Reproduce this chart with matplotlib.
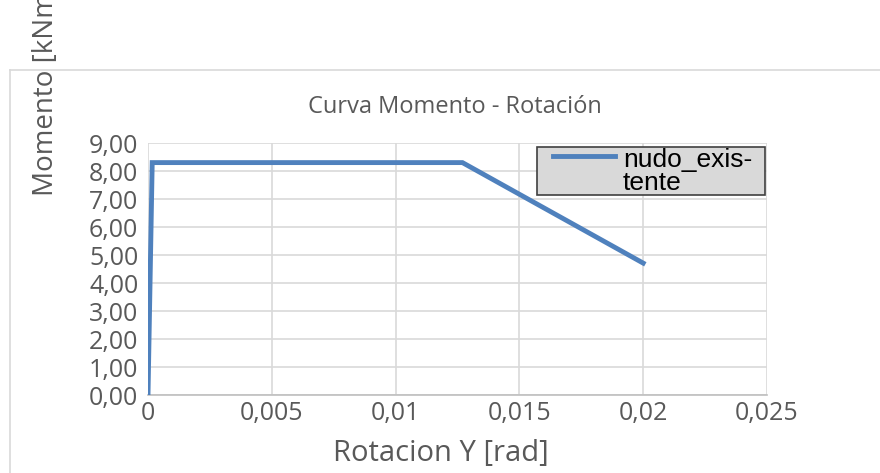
import matplotlib.pyplot as plt
from matplotlib.lines import Line2D
from matplotlib.patches import Rectangle

rotacion = [0.0, 0.00017, 0.0127, 0.020]
momento = [0.0, 8.30, 8.30, 4.71]
serie = "nudo_exis-\ntente"
xticks = [0, 0.005, 0.01, 0.015, 0.02, 0.025]
xlabels = ["0", "0,005", "0,01", "0,015", "0,02", "0,025"]
yticks = [0, 1, 2, 3, 4, 5, 6, 7, 8, 9]
ylabels = ["%d,00" % v for v in yticks]

grey = "#595959"
blue = "#4f81bd"
plt.rcParams['font.family'] = ['Open Sans', 'DejaVu Sans']

fig = plt.figure(figsize=(8.8, 4.73), dpi=100)
W, H = 880, 473
x0, x1, y0, y1 = 148, 767, 395, 143
ax = fig.add_axes([x0 / W, 1 - y0 / H, (x1 - x0) / W, (y0 - y1) / H])

def axpos(px, py):
    # pixel position -> axes fraction
    return (px - x0) / (x1 - x0), (y0 - py) / (y0 - y1)

ax.plot(rotacion, momento, color=blue, lw=3.5, solid_joinstyle="miter", zorder=3)
ax.set_xlim(0, 0.025)
ax.set_ylim(0, 9)
ax.set_xticks(xticks)
ax.set_xticklabels(xlabels)
ax.set_yticks(yticks)
ax.set_yticklabels(ylabels)
ax.tick_params(length=0, labelsize=18, labelcolor=grey)
ax.tick_params(axis="y", pad=7)
ax.tick_params(axis="x", pad=4)
ax.grid(color="#d9d9d9", lw=1.2)
for s in ["top", "right", "left"]:
    ax.spines[s].set_visible(False)
ax.spines["bottom"].set_color("#bfbfbf")
ax.spines["bottom"].set_linewidth(1.2)

ax.set_xlabel("Rotacion Y [rad]", fontsize=21, color=grey)
ax.xaxis.set_label_coords(*axpos(441, 453))
ax.xaxis.label.set_va("center")
fig.text(455 / W, 1 - 107 / H, "Curva Momento - Rotación", fontsize=17,
         color=grey, ha="center", va="center")
fig.text(46 / W, 1 - 196 / H, "Momento [kNm]", fontsize=20, color=grey,
         rotation=90, ha="center", va="bottom")

# chart area border
fig.add_artist(Line2D([10 / W, 1], [1 - 70 / H] * 2, color="#d9d9d9", lw=1.2))
fig.add_artist(Line2D([10 / W] * 2, [0, 1 - 70 / H], color="#d9d9d9", lw=1.2))

# legend box
bx0, by0 = axpos(537, 195)
bx1, by1 = axpos(765, 147)
ax.add_patch(Rectangle((bx0, by0), bx1 - bx0, by1 - by0, transform=ax.transAxes,
                       facecolor="#d9d9d9", edgecolor="#404040", lw=1.2, zorder=5))
hx0, hy = axpos(553, 156)
hx1, _ = axpos(615, 156)
ax.add_artist(Line2D([hx0, hx1], [hy, hy], transform=ax.transAxes, color=blue,
                     lw=3.5, zorder=6))
for line, py in zip(serie.split("\n"), [167, 190]):
    tx, ty = axpos(623, py)
    ax.text(tx, ty, line, transform=ax.transAxes, fontsize=19,
            family="Liberation Sans", color="black", va="baseline", zorder=6)

fig.savefig("out.png", dpi=100)
